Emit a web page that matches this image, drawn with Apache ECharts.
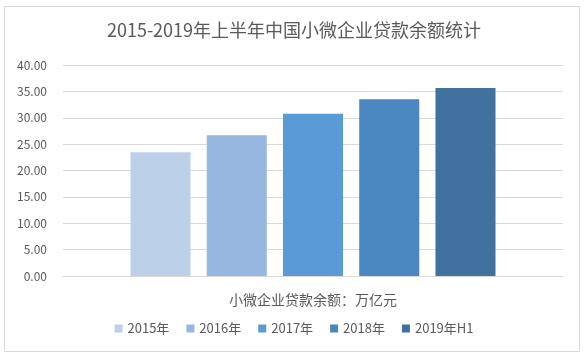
<!DOCTYPE html>
<html><head><meta charset="utf-8">
<script src="https://cdn.jsdelivr.net/npm/echarts@6/dist/echarts.min.js"></script>
<style>html,body{margin:0;padding:0;background:#fff}#c{width:588px;height:359px}</style>
</head><body><div id="c"></div>
<script>
const titleText = '2015-2019年上半年中国小微企业贷款余额统计';
const categories = ['小微企业贷款余额：万亿元'];
const seriesNames = ['2015年', '2016年', '2017年', '2018年', '2019年H1'];
const seriesValues = [23.46, 26.70, 30.74, 33.49, 35.63];
const colors = ['#BDD0EA', '#97B7E0', '#5B9BD5', '#4A87C0', '#41729F'];
const yTicks = { min: 0, max: 40, interval: 5 };

const chart = echarts.init(document.getElementById('c'), null, { renderer: 'canvas' });
const font = '"Noto Sans CJK SC", "Open Sans", sans-serif';
chart.setOption({
  animation: false,
  backgroundColor: '#fff',
  graphic: [{
    type: 'rect', shape: { x: 4.5, y: 6.5, width: 575, height: 345 },
    style: { fill: 'none', stroke: '#D9D9D9', lineWidth: 1 }, silent: true
  }],
  title: {
    text: titleText, left: 'center', top: 16,
    textStyle: { fontFamily: font, fontSize: 18, fontWeight: 'normal', color: '#595959' }
  },
  legend: {
    bottom: 19, left: 'center', itemWidth: 8, itemHeight: 8, itemGap: 17,
    icon: 'rect',
    textStyle: { fontFamily: font, fontSize: 13, color: '#595959' },
    data: seriesNames
  },
  grid: { left: 63, right: 25, top: 65, bottom: 83 },
  xAxis: {
    type: 'category', data: categories,
    axisLine: { lineStyle: { color: '#D9D9D9' } },
    axisTick: { show: false },
    axisLabel: { show: false },
    name: categories[0], nameLocation: 'middle', nameGap: 17,
    nameTextStyle: { fontFamily: font, fontSize: 14, color: '#595959' }
  },
  yAxis: {
    type: 'value', min: yTicks.min, max: yTicks.max, interval: yTicks.interval,
    axisLine: { show: false }, axisTick: { show: false },
    splitLine: { lineStyle: { color: '#D9D9D9' } },
    axisLabel: { fontFamily: font, fontSize: 12, color: '#595959', margin: 16,
      formatter: v => v.toFixed(2) }
  },
  series: seriesNames.map((n, i) => ({
    name: n, type: 'bar', data: [seriesValues[i]],
    itemStyle: { color: colors[i] },
    barGap: '27%', barCategoryGap: '27%'
  }))
});
</script></body></html>
